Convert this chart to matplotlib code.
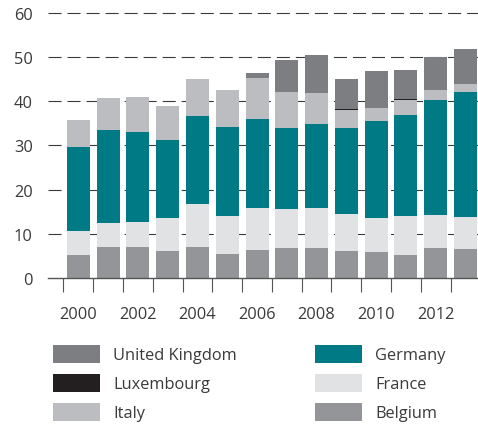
import numpy as np
import matplotlib.pyplot as plt
from matplotlib.ticker import FixedLocator

plt.rcParams['font.family'] = ['Open Sans', 'DejaVu Sans']
plt.rcParams['lines.scale_dashes'] = False

# -----------------------------
# Data
# -----------------------------
years = list(range(2000, 2014))

belgium = [5.1, 6.95, 6.95, 6.05, 6.95, 5.4, 6.35, 6.7, 6.7, 6.05, 5.8, 5.1, 6.7, 6.5]
france = [5.55, 5.55, 5.75, 7.45, 9.75, 8.6, 9.45, 8.9, 9.1, 8.35, 7.7, 8.9, 7.5, 7.25]
germany = [19.05, 21.0, 20.4, 17.7, 20.0, 20.2, 20.2, 18.3, 19.0, 19.5, 22.0, 22.9, 26.1, 28.35]
italy = [6.0, 7.2, 7.8, 7.7, 8.3, 8.4, 9.35, 8.2, 7.1, 4.1, 3.0, 3.4, 2.3, 1.8]
luxembourg = [0, 0, 0, 0, 0, 0, 0, 0, 0, 0.2, 0, 0.2, 0, 0]
uk = [0, 0, 0, 0, 0, 0, 1.05, 7.3, 8.6, 6.8, 8.4, 6.6, 7.4, 8.0]

series = [
    ("Belgium", belgium, "#939598"),
    ("France", france, "#e1e2e4"),
    ("Germany", germany, "#007a84"),
    ("Italy", italy, "#bcbdc0"),
    ("Luxembourg", luxembourg, "#231f20"),
    ("United Kingdom", uk, "#7d7e82"),
]

# -----------------------------
# Figure / axes
# -----------------------------
fig = plt.figure(figsize=(4.78, 4.27), dpi=100)
ax = fig.add_axes([48 / 478, 0.3466, 1 - 48 / 478, 0.6310])

x = np.arange(len(years))
bottom = np.zeros(len(years))
bars = {}
for name, vals, color in series:
    vals = np.array(vals)
    bars[name] = ax.bar(x, vals, width=0.77, bottom=bottom, color=color,
                        linewidth=0, zorder=2, label=name)
    bottom += vals

ax.set_xlim(-1.02, 13.42)
ax.set_ylim(0, 61)

# grid
for v in range(10, 70, 10):
    ax.axhline(v, color="#3a3a3a", linewidth=0.8, linestyle=(0, (9.4, 4.3)), zorder=1)

# spines
for s in ["top", "right", "left"]:
    ax.spines[s].set_visible(False)
ax.spines["bottom"].set_color("#555555")
ax.spines["bottom"].set_linewidth(1.0)
ax.spines["bottom"].set_zorder(3)

# y ticks
ax.set_yticks(range(0, 70, 10))
ax.tick_params(axis="y", length=0, pad=11, labelsize=11.8, labelcolor="#3a3a3a")

# x ticks: labels at bar centers, tick marks between bars
ax.set_xticks(x[::2])
ax.set_xticklabels([str(y) for y in years[::2]])
ax.xaxis.set_minor_locator(FixedLocator(np.arange(-0.5, 13.0, 1.0)))
ax.tick_params(axis="x", which="major", length=0, pad=20, labelsize=11.8, labelcolor="#3a3a3a")
ax.tick_params(axis="x", which="minor", length=10, width=0.8, color="#555555")

# -----------------------------
# Legend (two columns)
# -----------------------------
fs = 11.8
fpx = fs * 100 / 72
common = dict(frameon=False, fontsize=fs, borderpad=0, borderaxespad=0,
              handlelength=47 / fpx, handleheight=21.5 / fpx,
              handletextpad=13 / fpx, labelspacing=10.5 / fpx,
              labelcolor="#3a3a3a", loc="upper left")

left_names = ["United Kingdom", "Luxembourg", "Italy"]
right_names = ["Germany", "France", "Belgium"]

leg1 = fig.legend([bars[n] for n in left_names], left_names,
                  bbox_to_anchor=(53 / 478, 1 - 346 / 427), **common)
leg2 = fig.legend([bars[n] for n in right_names], right_names,
                  bbox_to_anchor=(315 / 478, 1 - 346 / 427), **common)

fig.savefig("out.png", dpi=100)
